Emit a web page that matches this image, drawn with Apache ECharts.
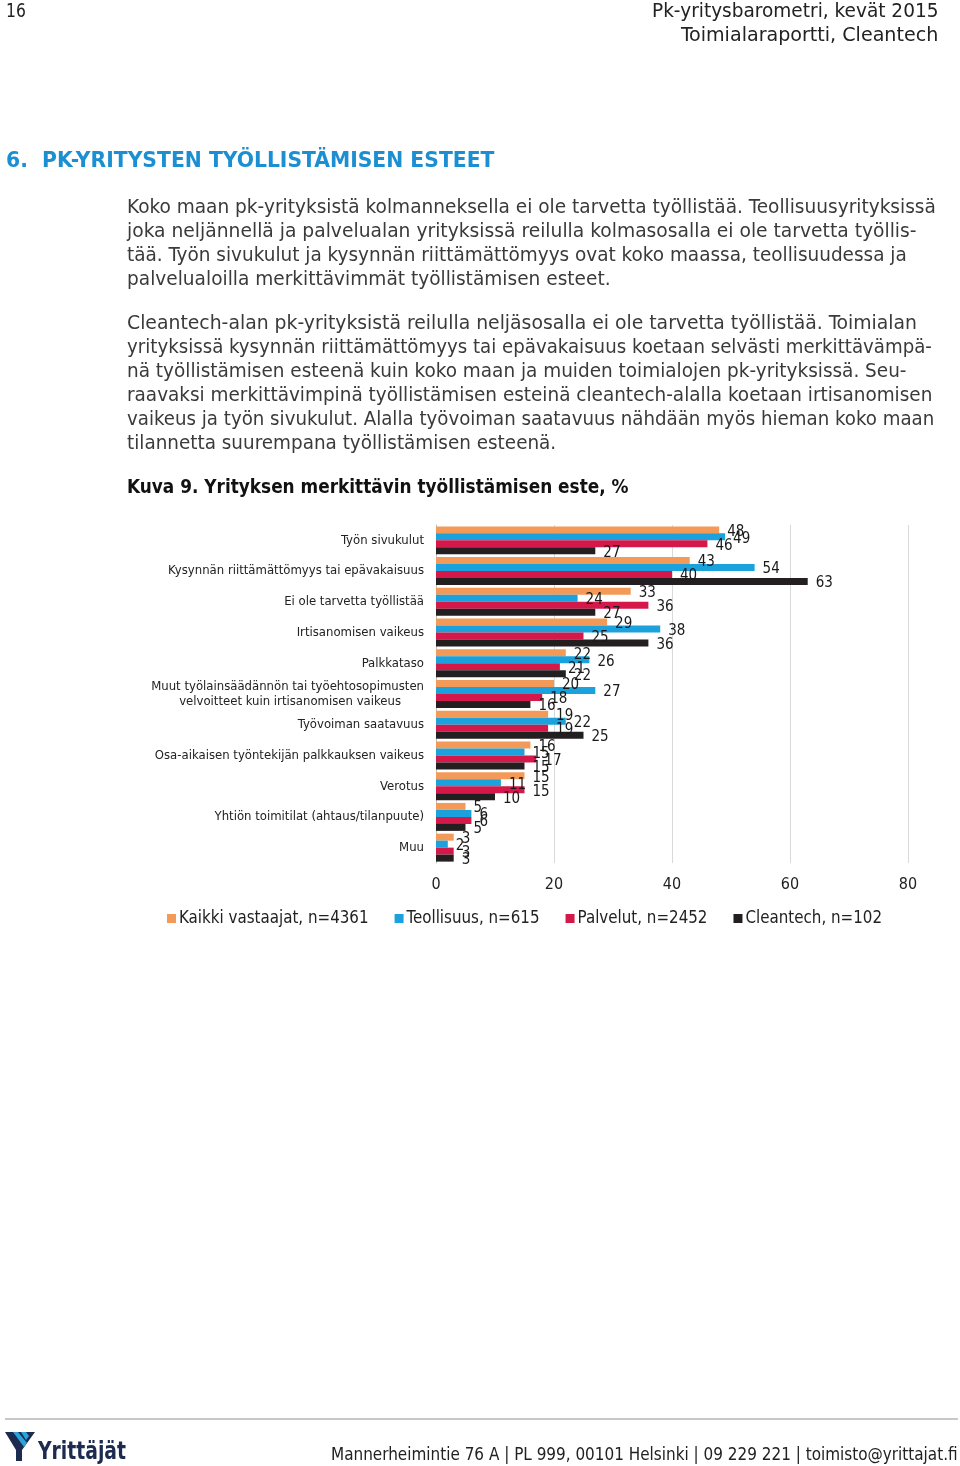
<!DOCTYPE html>
<html><head><meta charset="utf-8">
<script src="https://cdn.jsdelivr.net/npm/echarts@6/dist/echarts.min.js"></script>
<style>
html,body{margin:0;padding:0;background:#fff;width:960px;height:1466px;overflow:hidden;}
#chart{position:absolute;left:0;top:0;width:960px;height:1466px;}
.t{position:absolute;white-space:pre;font-family:"DejaVu Sans Condensed","DejaVu Sans",sans-serif;transform-origin:left top;}
.r{transform-origin:right top;}
.body{font-size:19px;line-height:19px;color:#3a3a3a;}
</style></head><body>
<div id="chart"></div>
<div id="texts"></div>
<script>
const categories = [
  "Työn sivukulut",
  "Kysynnän riittämättömyys tai epävakaisuus",
  "Ei ole tarvetta työllistää",
  "Irtisanomisen vaikeus",
  "Palkkataso",
  "Muut työlainsäädännön tai työehtosopimusten\nvelvoitteet kuin irtisanomisen vaikeus",
  "Työvoiman saatavuus",
  "Osa-aikaisen työntekijän palkkauksen vaikeus",
  "Verotus",
  "Yhtiön toimitilat (ahtaus/tilanpuute)",
  "Muu"
];
const seriesNames = ["Kaikki vastaajat, n=4361", "Teollisuus, n=615", "Palvelut, n=2452", "Cleantech, n=102"];
const kaikki     = [48, 43, 33, 29, 22, 20, 19, 16, 15, 5, 3];
const teollisuus = [49, 54, 24, 38, 26, 27, 22, 15, 11, 6, 2];
const palvelut   = [46, 40, 36, 25, 21, 18, 19, 17, 15, 6, 3];
const cleantech  = [27, 63, 27, 36, 22, 16, 25, 15, 10, 5, 3];
const xTicks = [0, 20, 40, 60, 80];
const colors = ["#F39A58", "#1BA1DB", "#D4184A", "#231F20"];

// page texts
const texts = [
  {s:"16", x:6, y:1, w:20, size:19, color:"#222"},
  {s:"Pk-yritysbarometri, kevät 2015", rx:938, y:1, w:286, size:19, color:"#222"},
  {s:"Toimialaraportti, Cleantech", rx:938, y:25, w:257, size:19, color:"#222"},
  {s:"6.  PK-YRITYSTEN TYÖLLISTÄMISEN ESTEET", x:6, y:149, w:488, size:22, color:"#1B8FD2", bold:true},
  {s:"Koko maan pk-yrityksistä kolmanneksella ei ole tarvetta työllistää. Teollisuusyrityksissä", x:127, y:197, w:809, cls:"body"},
  {s:"joka neljännellä ja palvelualan yrityksissä reilulla kolmasosalla ei ole tarvetta työllis-", x:127, y:221, w:790, cls:"body"},
  {s:"tää. Työn sivukulut ja kysynnän riittämättömyys ovat koko maassa, teollisuudessa ja", x:127, y:245, w:780, cls:"body"},
  {s:"palvelualoilla merkittävimmät työllistämisen esteet.", x:127, y:269, w:484, cls:"body"},
  {s:"Cleantech-alan pk-yrityksistä reilulla neljäsosalla ei ole tarvetta työllistää. Toimialan", x:127, y:313, w:790, cls:"body"},
  {s:"yrityksissä kysynnän riittämättömyys tai epävakaisuus koetaan selvästi merkittävämpä-", x:127, y:337, w:805, cls:"body"},
  {s:"nä työllistämisen esteenä kuin koko maan ja muiden toimialojen pk-yrityksissä. Seu-", x:127, y:361, w:780, cls:"body"},
  {s:"raavaksi merkittävimpinä työllistämisen esteinä cleantech-alalla koetaan irtisanomisen", x:127, y:385, w:805, cls:"body"},
  {s:"vaikeus ja työn sivukulut. Alalla työvoiman saatavuus nähdään myös hieman koko maan", x:127, y:409, w:807, cls:"body"},
  {s:"tilannetta suurempana työllistämisen esteenä.", x:127, y:433, w:429, cls:"body"},
  {s:"Kuva 9. Yrityksen merkittävin työllistämisen este, %", x:127, y:477, w:502, size:19, color:"#111", bold:true},
  {s:"Mannerheimintie 76 A | PL 999, 00101 Helsinki | 09 229 221 | toimisto@yrittajat.fi", x:331, y:1446, w:627, size:17, color:"#222"}
];
const host = document.getElementById("texts");
texts.forEach(t => {
  const d = document.createElement("div");
  d.className = "t" + (t.cls ? " " + t.cls : "") + (t.rx !== undefined ? " r" : "");
  d.textContent = t.s;
  if (t.size) { d.style.fontSize = t.size + "px"; d.style.lineHeight = t.size + "px"; }
  if (t.color) d.style.color = t.color;
  if (t.bold) d.style.fontWeight = "bold";
  d.style.top = t.y + "px";
  host.appendChild(d);
  const w = d.offsetWidth;
  const k = t.w / w;
  if (t.rx !== undefined) { d.style.left = (t.rx - w) + "px"; }
  else d.style.left = t.x + "px";
  d.style.transform = "scaleX(" + k + ")";
});
// footer rule and logo
const rule = document.createElement("div");
rule.style.cssText = "position:absolute;left:5px;top:1418px;width:953px;height:2px;background:#c8c8c8;";
host.appendChild(rule);
const logo = document.createElement("div");
logo.style.cssText = "position:absolute;left:5px;top:1430px;";
logo.innerHTML = '<svg width="125" height="34" xmlns="http://www.w3.org/2000/svg">' +
  '<polygon points="0,2 30,2 17,20 17,31 11,31 11,20" fill="#1c2b4f"/>' +
  '<polygon points="8,2 13,2 22,13 19,17" fill="#2aa5dc"/>' +
  '<polygon points="16,2 21,2 24,6 21,10" fill="#2aa5dc"/>' +
  '<text x="33" y="29" font-family="DejaVu Sans Condensed" font-weight="bold" font-size="24" fill="#1c2b4f" textLength="88" lengthAdjust="spacingAndGlyphs">Yrittäjät</text></svg>';
host.appendChild(logo);

const chart = echarts.init(document.getElementById("chart"), null, {renderer: "canvas"});
const font = "DejaVu Sans Condensed";
const valuesList = [kaikki, teollisuus, palvelut, cleantech];
chart.setOption({
  animation: false,
  color: colors,
  textStyle: {fontFamily: font},
  grid: {left: 436, right: 52, top: 525, bottom: 603, show: false},
  legend: {
    data: seriesNames, left: 162, top: 905, itemWidth: 9, itemHeight: 9, itemGap: 26,
    icon: "rect",
    textStyle: {fontSize: 16.8, color: "#222", fontFamily: font, padding: [0, 0, 0, -2]}
  },
  xAxis: {
    type: "value", min: xTicks[0], max: xTicks[xTicks.length - 1], interval: xTicks[1] - xTicks[0],
    axisLine: {show: false}, axisTick: {show: false},
    axisLabel: {fontSize: 16, color: "#222", margin: 14, fontFamily: font},
    splitLine: {show: true, lineStyle: {color: "#d9d9d9", width: 1}}
  },
  yAxis: {
    type: "category", data: categories, inverse: true,
    axisTick: {show: false},
    axisLine: {show: true, lineStyle: {color: "#bfbfbf"}},
    axisLabel: {
      fontSize: 13, color: "#222", margin: 12, fontFamily: font, lineHeight: 15,
      formatter: function (v) {
        if (v.indexOf("\n") >= 0) {
          const p = v.split("\n");
          return "{a|" + p[0] + "}\n{b|" + p[1] + "}";
        }
        return v;
      },
      rich: {
        a: {fontSize: 13, color: "#222", fontFamily: font, lineHeight: 15},
        b: {fontSize: 13, color: "#222", fontFamily: font, lineHeight: 15, padding: [0, 23, 0, 0]}
      }
    }
  },
  series: valuesList.map((vals, i) => ({
    name: seriesNames[i], type: "bar", data: vals,
    barGap: "0%", barCategoryGap: "9%",
    label: {show: true, position: "right", distance: 8, offset: [0, 2], fontSize: 15, color: "#1a1a1a", fontFamily: font}
  }))
});
</script>
</body></html>
